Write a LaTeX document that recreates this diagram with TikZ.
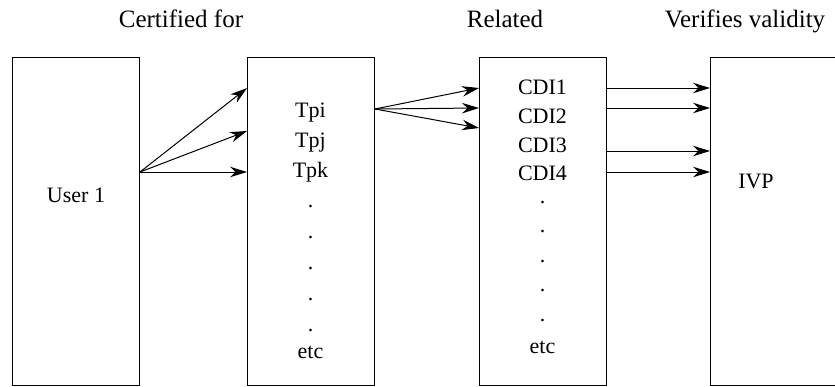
\documentclass[tikz,border=0pt]{standalone}
\usepackage{fontspec}
\setmainfont{Liberation Serif}
\usetikzlibrary{arrows.meta,calc}
\begin{document}
\begin{tikzpicture}[x=1bp,y=-1bp,
  box/.style={draw, line width=1bp, minimum width=127bp, minimum height=328bp, inner sep=0pt, anchor=north west},
  head/.style={font=\fontsize{25bp}{29bp}\selectfont, anchor=base},
  txt/.style={font=\fontsize{22bp}{26bp}\selectfont, anchor=base, inner sep=0pt},
  arr/.style={-{Stealth[length=17bp,width=10.5bp,inset=5.5bp]}, line width=1bp}]
\useasboundingbox (0,0) rectangle (835,386);
% boxes
\node[box] (b1) at (12,57) {};
\node[box] (b2) at (247,57) {};
\node[box] (b3) at (479,57) {};
\node[box] (b4) at (710,57) {};
% headings
\node[head] (h1) at (181,27) {Certified for};
\node[head] (h2) at (505,27) {Related};
\node[head] (h3) at (745,27) {Verifies validity};
% box texts
\node[txt] (u1) at (76,202) {User 1};
\node[txt] (tpi) at (310.5,117) {Tpi};
\node[txt] (tpj) at (310.5,147) {Tpj};
\node[txt] (tpk) at (310.5,177) {Tpk};
\foreach \i/\y in {1/207,2/238,3/269,4/300,5/331}{
  \node[txt] (td\i) at (310.5,\y) {.};
}
\node[txt] (tetc) at (310.5,358) {etc};
\node[txt] (c1) at (542.5,94) {CDI1};
\node[txt] (c2) at (542.5,123) {CDI2};
\node[txt] (c3) at (542.5,152) {CDI3};
\node[txt] (c4) at (542.5,180) {CDI4};
\foreach \i/\y in {1/203,2/232,3/262,4/291,5/321}{
  \node[txt] (cd\i) at (542.5,\y) {.};
}
\node[txt] (cetc) at (542.5,353) {etc};
\node[txt] (ivp) at (756,188) {IVP};
% connector coordinates
\coordinate (s1) at (b1.north east |- 0,172);
\coordinate (e1) at (b2.north west |- 0,88);
\coordinate (e2) at (b2.north west |- 0,131);
\coordinate (e3) at (b2.north west |- 0,172);
\coordinate (s2) at (b2.north east |- 0,109);
\coordinate (f1) at (b3.north west |- 0,88);
\coordinate (f2) at (b3.north west |- 0,108);
\coordinate (f3) at (b3.north west |- 0,128);
\foreach \i/\y in {1/88,2/108,3/151,4/172}{
  \coordinate (g\i) at (b3.north east |- 0,\y);
  \coordinate (k\i) at (b4.north west |- 0,\y);
}
\draw[arr] (s1) -- (e1);
\draw[arr] (s1) -- (e2);
\draw[arr] (s1) -- (e3);
\draw[arr] (s2) -- (f1);
\draw[arr] (s2) -- (f2);
\draw[arr] (s2) -- (f3);
\foreach \i in {1,2,3,4}{
  \draw[arr] (g\i) -- (k\i);
}
\end{tikzpicture}
\end{document}
